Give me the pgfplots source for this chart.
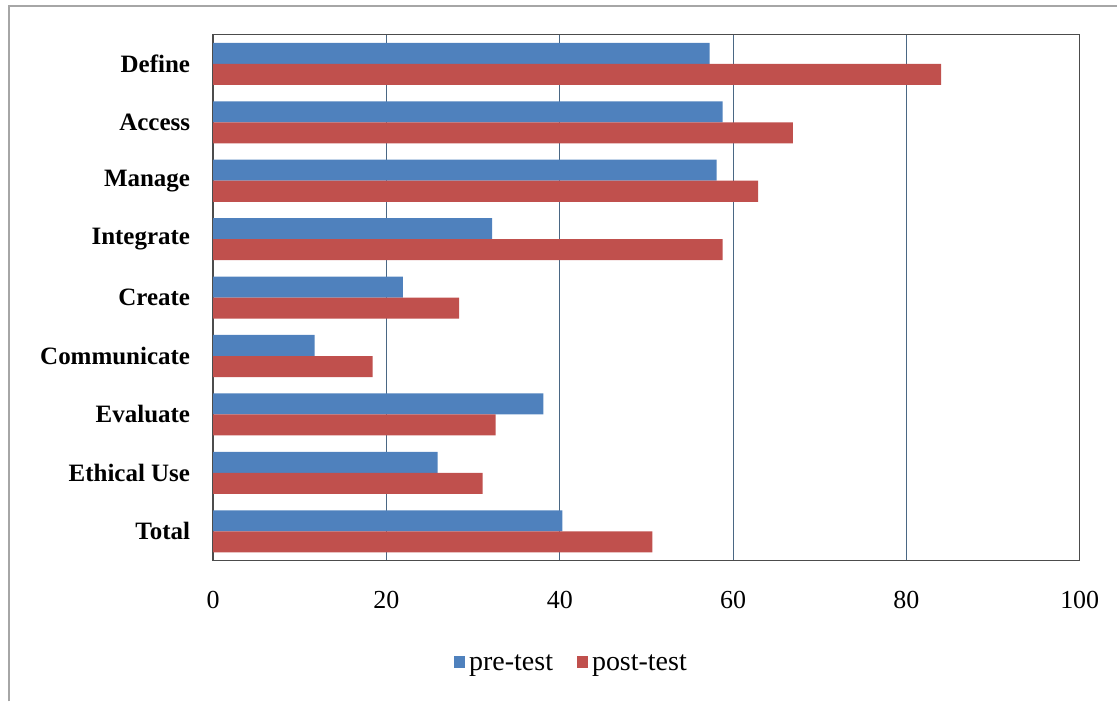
\documentclass[border=0pt]{standalone}
\usepackage{pgfplots}
\pgfplotsset{compat=1.18}
\usepackage{fontspec}
\setmainfont{Liberation Serif}
\definecolor{preblue}{HTML}{4F81BD}
\definecolor{postred}{HTML}{C0504D}
\definecolor{gridc}{HTML}{4A6784}
\begin{document}
\begin{tikzpicture}
\begin{axis}[
  at={(0,0)}, anchor=south west,
  scale only axis,
  width=433.7pt, height=263.15pt,
  xbar,
  xmin=0, xmax=100,
  ymin=-0.5, ymax=8.5,
  y dir=reverse,
  bar width=0.36,
  xtick={0,20,...,100},
  ytick={0,...,8},
  yticklabels={Define,Access,Manage,Integrate,Create,Communicate,Evaluate,Ethical Use,Total},
  yticklabel style={font=\fontsize{12.5}{14}\selectfont\bfseries, xshift=-8pt},
  xticklabel style={font=\fontsize{13}{15}\selectfont, yshift=-12pt},
  /pgf/number format/assume math mode=true,
  major tick length=0pt,
  xmajorgrids,
  major grid style={gridc, line width=0.5pt},
  axis line style={gray!60!black, line width=0.7pt},
  legend style={at={(0.4147,-0.1976)}, anchor=center, draw=none, fill=none,
    legend columns=2, font=\fontsize{14}{16}\selectfont,
    /tikz/every even column/.append style={column sep=10pt}},
  legend image code/.code={\fill[#1] (0pt,-2pt) rectangle (5.5pt,4pt);},
]
\addplot[draw=none, fill=preblue, bar shift=-0.18] coordinates {
 (57.3,0) (58.8,1) (58.1,2) (32.2,3) (21.9,4) (11.7,5) (38.1,6) (25.9,7) (40.3,8)};
\addplot[draw=none, fill=postred, bar shift=0.18] coordinates {
 (84.0,0) (66.9,1) (62.9,2) (58.8,3) (28.4,4) (18.4,5) (32.6,6) (31.1,7) (50.7,8)};
\legend{pre-test, post-test}
\end{axis}
\draw[gray!70, line width=1pt] (-102.3pt,-70.5pt) -- (-102.3pt,277.5pt) -- (452.35pt,277.5pt);
\useasboundingbox (-106.65pt,-70.5pt) rectangle (452.35pt,280.5pt);
\end{tikzpicture}
\end{document}
